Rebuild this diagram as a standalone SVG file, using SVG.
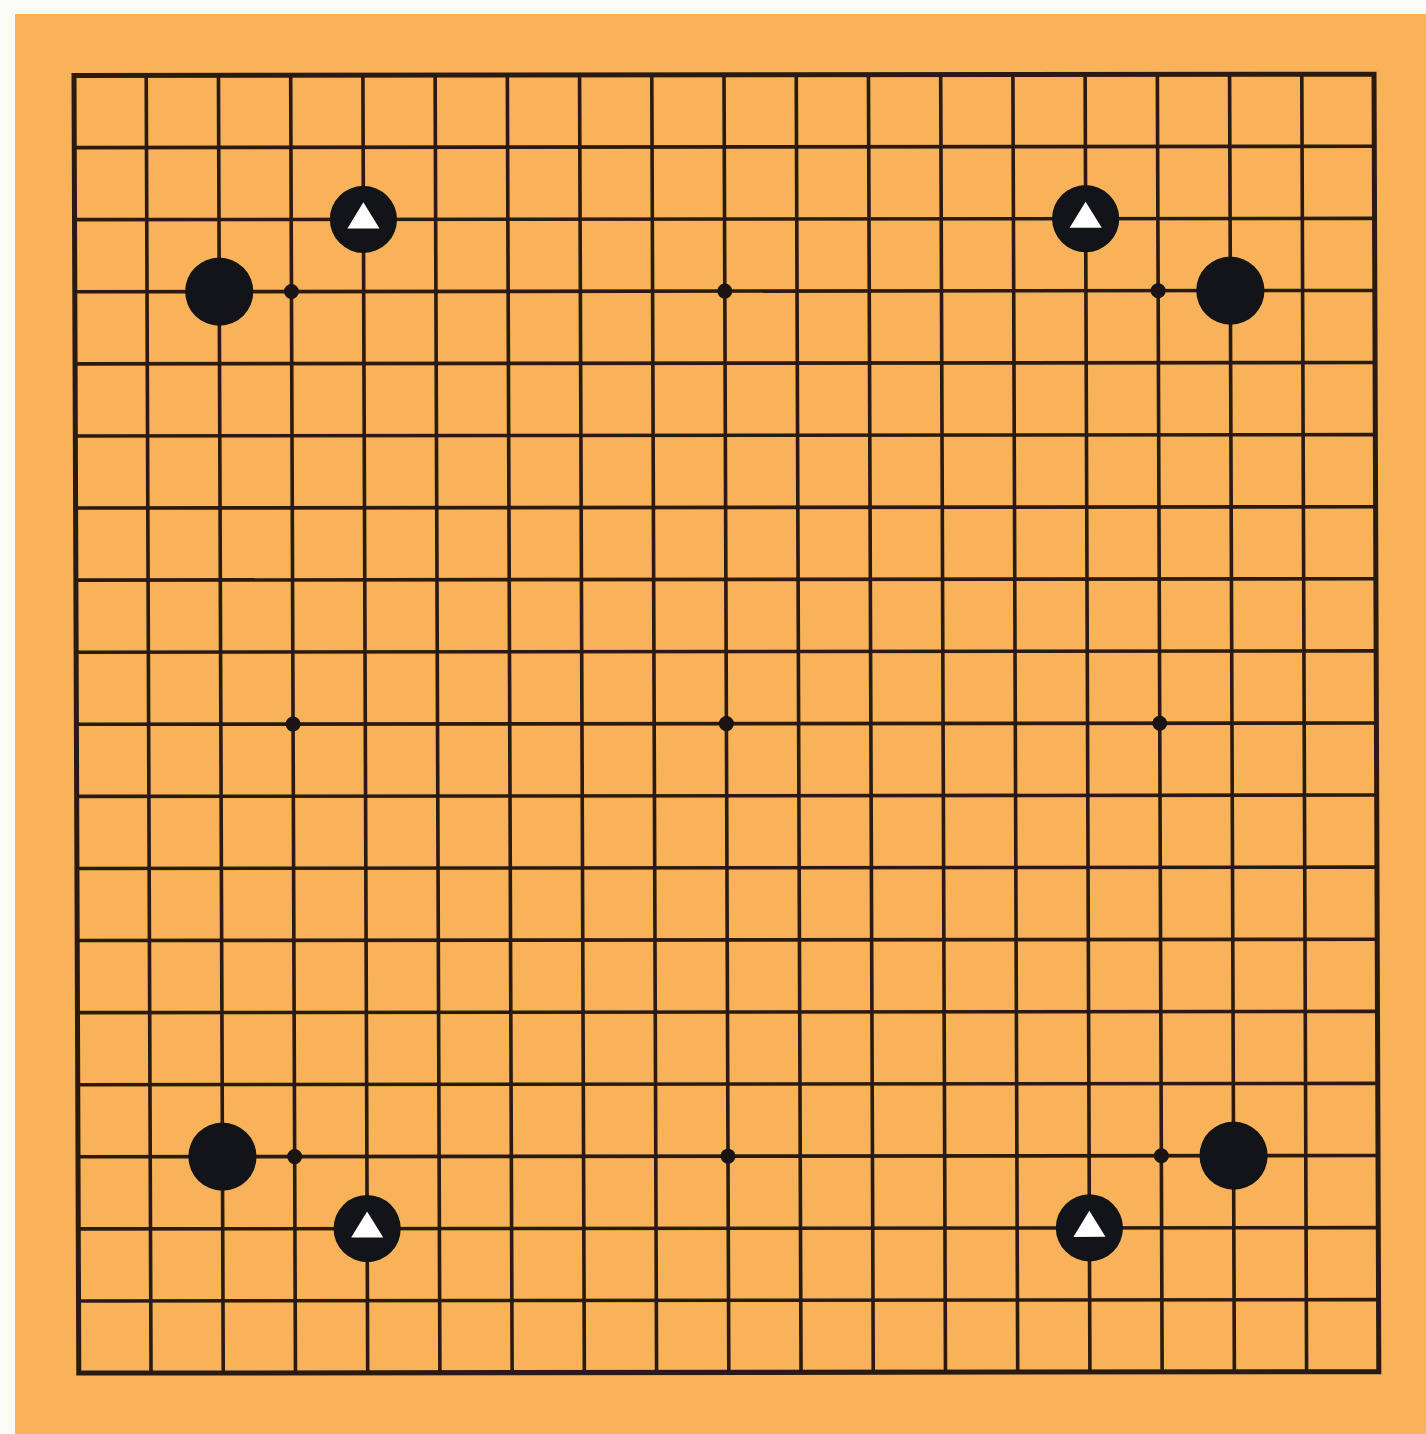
<svg xmlns="http://www.w3.org/2000/svg" width="1426" height="1434" viewBox="0 0 1426 1434">
<defs>
<style>
.ln{stroke:#2a1a12;stroke-width:3.6;fill:none}
.bd{stroke:#2a1a12;stroke-width:5;fill:none}
.blk{fill:#121417}
.star{fill:#1a1414}
.tri{fill:#ffffff}
</style>
</defs>
<rect x="0" y="0" width="1426" height="1434" fill="#fdfbf7"/>
<rect x="15" y="14" width="1411" height="1420" fill="#f8b35a"/>
<g transform="matrix(1.0031,-0.001,0.0037,1.0012,74,75.5)">
<g id="grid">
<path class="ln" d="M72 0V1296M144 0V1296M216 0V1296M288 0V1296M360 0V1296M432 0V1296M504 0V1296M576 0V1296M648 0V1296M720 0V1296M792 0V1296M864 0V1296M936 0V1296M1008 0V1296M1080 0V1296M1152 0V1296M1224 0V1296"/>
<path class="ln" d="M0 72H1296M0 144H1296M0 216H1296M0 288H1296M0 360H1296M0 432H1296M0 504H1296M0 576H1296M0 648H1296M0 720H1296M0 792H1296M0 864H1296M0 936H1296M0 1008H1296M0 1080H1296M0 1152H1296M0 1224H1296"/>
<rect class="bd" x="0" y="0" width="1296" height="1296"/>
</g>
<g id="star-points">
<circle class="star" cx="216" cy="216" r="7.5"/>
<circle class="star" cx="648" cy="216" r="7.5"/>
<circle class="star" cx="1080" cy="216" r="7.5"/>
<circle class="star" cx="216" cy="648" r="7.5"/>
<circle class="star" cx="648" cy="648" r="7.5"/>
<circle class="star" cx="1080" cy="648" r="7.5"/>
<circle class="star" cx="216" cy="1080" r="7.5"/>
<circle class="star" cx="648" cy="1080" r="7.5"/>
<circle class="star" cx="1080" cy="1080" r="7.5"/>
</g>
<g id="stone-c16"><circle class="blk" cx="144" cy="216" r="34"/></g>
<g id="stone-e17"><circle class="blk" cx="288" cy="144" r="33.5"/><polygon class="tri" points="288,127 304,153 272,153"/></g>
<g id="stone-r16"><circle class="blk" cx="1152" cy="216" r="34"/></g>
<g id="stone-p17"><circle class="blk" cx="1008" cy="144" r="33.5"/><polygon class="tri" points="1008,127 1024,153 992,153"/></g>
<g id="stone-c4"><circle class="blk" cx="144" cy="1080" r="34"/></g>
<g id="stone-e3"><circle class="blk" cx="288" cy="1152" r="33.5"/><polygon class="tri" points="288,1135 304,1161 272,1161"/></g>
<g id="stone-r4"><circle class="blk" cx="1152" cy="1080" r="34"/></g>
<g id="stone-p3"><circle class="blk" cx="1008" cy="1152" r="33.5"/><polygon class="tri" points="1008,1135 1024,1161 992,1161"/></g>
</g>
<g id="connectors"/>
</svg>
